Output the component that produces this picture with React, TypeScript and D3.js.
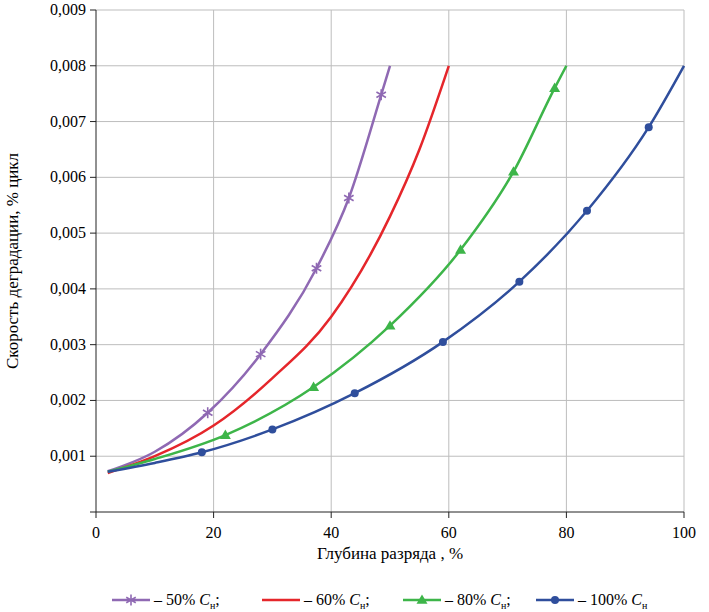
import * as d3 from 'd3';

type Pt = [number, number];

const xTicks = [0, 20, 40, 60, 80, 100];
const yTicks = [0.001, 0.002, 0.003, 0.004, 0.005, 0.006, 0.007, 0.008, 0.009];

const line50: Pt[] = [[2, 0.00073], [10, 0.00108], [19, 0.00178], [28, 0.00283], [37.5, 0.00437], [43, 0.00563], [48.5, 0.00748], [50, 0.008]];
const marks50: Pt[] = [[19, 0.00178], [28, 0.00283], [37.5, 0.00437], [43, 0.00563], [48.5, 0.00748]];
const line60: Pt[] = [[2, 0.0007], [10, 0.001], [20, 0.00155], [30, 0.0024], [40, 0.0035], [50, 0.0053], [55, 0.0065], [60, 0.008]];
const line80: Pt[] = [[2, 0.00072], [10, 0.00095], [22, 0.00138], [37, 0.00224], [50, 0.00334], [62, 0.0047], [71, 0.0061], [78, 0.0076], [80, 0.008]];
const marks80: Pt[] = [[22, 0.00138], [37, 0.00224], [50, 0.00334], [62, 0.0047], [71, 0.0061], [78, 0.0076]];
const line100: Pt[] = [[2, 0.00072], [10, 0.00088], [18, 0.00107], [30, 0.00148], [44, 0.00213], [59, 0.00305], [72, 0.00413], [83.5, 0.0054], [94, 0.0069], [100, 0.008]];
const marks100: Pt[] = [[18, 0.00107], [30, 0.00148], [44, 0.00213], [59, 0.00305], [72, 0.00413], [83.5, 0.0054], [94, 0.0069]];

const legendLabels = ['50%', '60%', '80%', '100%'];

const PURPLE = '#8f69b3';
const RED = '#e5262b';
const GREEN = '#3db549';
const BLUE = '#2f4e9c';
const FONT = '"Liberation Serif", "DejaVu Serif", serif';

const x = d3.scaleLinear().domain([0, 100]).range([96, 684]);
const y = d3.scaleLinear().domain([0, 0.009]).range([512, 10]);
const lineGen = d3.line<Pt>().x((d) => x(d[0])).y((d) => y(d[1])).curve(d3.curveMonotoneX);

function Star({ cx, cy, c }: { cx: number; cy: number; c: string }) {
  const r = 5.5;
  return (
    <g stroke={c} strokeWidth={1.6}>
      {[0, 60, 120].map((a) => {
        const t = (a * Math.PI) / 180 + Math.PI / 2;
        return <line key={a} x1={cx - r * Math.cos(t)} y1={cy - r * Math.sin(t)} x2={cx + r * Math.cos(t)} y2={cy + r * Math.sin(t)} />;
      })}
    </g>
  );
}

function Tri({ cx, cy, c }: { cx: number; cy: number; c: string }) {
  const s = 5.5;
  return <path d={`M${cx},${cy - s}L${cx + s},${cy + s * 0.7}L${cx - s},${cy + s * 0.7}Z`} fill={c} />;
}

function Dot({ cx, cy, c }: { cx: number; cy: number; c: string }) {
  return <circle cx={cx} cy={cy} r={4} fill={c} />;
}

export default function App() {
  const legend = [
    { c: PURPLE, x0: 112, m: 'star' },
    { c: RED, x0: 262, m: 'none' },
    { c: GREEN, x0: 403, m: 'tri' },
    { c: BLUE, x0: 536, m: 'dot' },
  ];
  return (
    <svg width={709} height={612} style={{ position: 'absolute', left: 0, top: 0, fontFamily: FONT }}>
      <rect width={709} height={612} fill="#fff" />
      {xTicks.slice(1).map((t) => (
        <line key={t} x1={x(t)} x2={x(t)} y1={y(0.009)} y2={y(0)} stroke="#bdbdbd" />
      ))}
      {yTicks.map((t) => (
        <line key={t} x1={x(0)} x2={x(100)} y1={y(t)} y2={y(t)} stroke="#bdbdbd" />
      ))}
      <line x1={x(0)} x2={x(0)} y1={y(0.009)} y2={y(0)} stroke="#222" />
      <line x1={x(0)} x2={x(100)} y1={y(0)} y2={y(0)} stroke="#222" />
      {[0, ...yTicks].map((t) => (
        <line key={t} x1={x(0) - 6} x2={x(0)} y1={y(t)} y2={y(t)} stroke="#222" />
      ))}
      {xTicks.map((t) => (
        <line key={t} x1={x(t)} x2={x(t)} y1={y(0)} y2={y(0) + 6} stroke="#222" />
      ))}
      {yTicks.map((t) => (
        <text key={t} x={x(0) - 10} y={y(t) + 5} textAnchor="end" fontSize={16}>
          {t.toFixed(3).replace('.', ',')}
        </text>
      ))}
      {xTicks.map((t) => (
        <text key={t} x={x(t)} y={y(0) + 26} textAnchor="middle" fontSize={16}>
          {t}
        </text>
      ))}
      <text x={390} y={559} textAnchor="middle" fontSize={17}>Глубина разряда , %</text>
      <text transform="translate(18,261) rotate(-90)" textAnchor="middle" fontSize={17}>Скорость деградации, % цикл</text>

      <path d={lineGen(line50) ?? ''} fill="none" stroke={PURPLE} strokeWidth={2.5} />
      <path d={lineGen(line60) ?? ''} fill="none" stroke={RED} strokeWidth={2.5} />
      <path d={lineGen(line80) ?? ''} fill="none" stroke={GREEN} strokeWidth={2.5} />
      <path d={lineGen(line100) ?? ''} fill="none" stroke={BLUE} strokeWidth={2.5} />
      {marks50.map((d, i) => <Star key={i} cx={x(d[0])} cy={y(d[1])} c={PURPLE} />)}
      {marks80.map((d, i) => <Tri key={i} cx={x(d[0])} cy={y(d[1])} c={GREEN} />)}
      {marks100.map((d, i) => <Dot key={i} cx={x(d[0])} cy={y(d[1])} c={BLUE} />)}

      {legend.map((l, i) => {
        const cy = 600;
        const mx = l.x0 + 19;
        return (
          <g key={i}>
            <line x1={l.x0} x2={l.x0 + 38} y1={cy} y2={cy} stroke={l.c} strokeWidth={2.5} />
            {l.m === 'star' && <Star cx={mx} cy={cy} c={l.c} />}
            {l.m === 'tri' && <Tri cx={mx} cy={cy} c={l.c} />}
            {l.m === 'dot' && <Dot cx={mx} cy={cy} c={l.c} />}
            <text x={l.x0 + 42} y={cy + 5} fontSize={16}>
              – {legendLabels[i]} <tspan fontStyle="italic">C</tspan>
              <tspan fontSize={10} dy={4}>н</tspan>
              <tspan dy={-4}>{i < 3 ? ';' : ''}</tspan>
            </text>
          </g>
        );
      })}
    </svg>
  );
}
